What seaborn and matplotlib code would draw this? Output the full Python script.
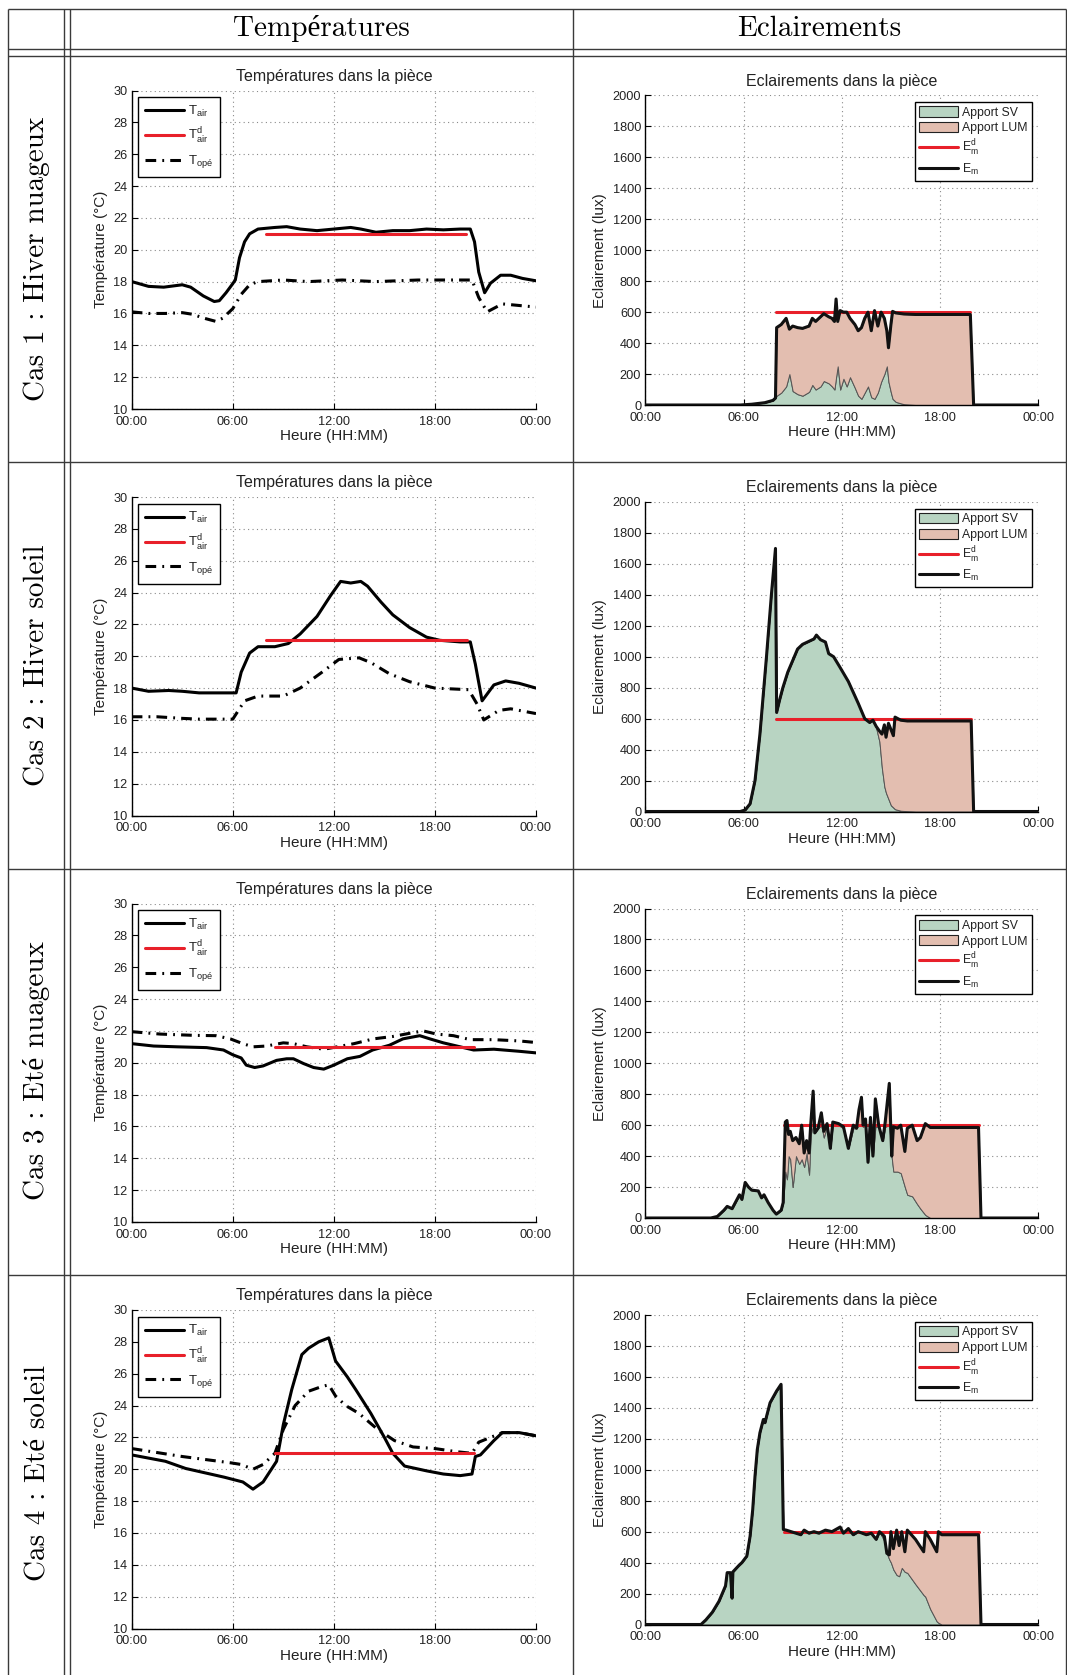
import numpy as np
import matplotlib
matplotlib.use("Agg")
import matplotlib.pyplot as plt
import seaborn as sns
from matplotlib.patches import Patch
from matplotlib.lines import Line2D

# ---------------- DATA ----------------
row_labels = ["Cas 1 : Hiver nuageux", "Cas 2 : Hiver soleil",
              "Cas 3 : Eté nuageux", "Cas 4 : Eté soleil"]
col_headers = ["Températures", "Eclairements"]
x_ticks = [0, 6, 12, 18, 24]
x_tick_labels = ["00:00", "06:00", "12:00", "18:00", "00:00"]
temp_ticks = list(range(10, 31, 2))
lux_ticks = list(range(0, 2001, 200))

# Case 1 temperatures
c1_tair_h = [0, 1.0, 1.9, 3.0, 3.5, 4.25, 4.9, 5.2, 5.6, 5.95, 6.15, 6.4, 6.7, 7.0, 7.5, 8.5, 9.2, 10.0, 11.0,
             12.0, 13.0, 13.6, 14.5, 15.5, 16.5, 17.5, 18.5, 19.5, 20.1, 20.35, 20.6, 20.95, 21.3, 21.9, 22.5, 23.2, 24]
c1_tair = [18.0, 17.7, 17.65, 17.8, 17.65, 17.1, 16.75, 16.8, 17.3, 17.8, 18.1, 19.5, 20.5, 21.0, 21.3, 21.4, 21.45,
           21.3, 21.2, 21.3, 21.4, 21.3, 21.1, 21.2, 21.2, 21.3, 21.25, 21.3, 21.3, 20.5, 18.6, 17.3, 17.9, 18.4,
           18.4, 18.2, 18.05]
c1_tope_h = [0, 1.0, 2.0, 3.0, 3.6, 4.3, 5.0, 5.4, 6.0, 6.5, 7.0, 7.5, 9.0, 10.5, 12.5, 14.5, 17.0, 19.0, 20.2,
             20.6, 21.1, 22.0, 23.0, 24]
c1_tope = [16.1, 16.0, 16.0, 16.05, 15.95, 15.7, 15.5, 15.7, 16.3, 17.2, 17.8, 18.0, 18.1, 18.0, 18.1, 18.0, 18.1,
           18.1, 18.1, 17.0, 16.1, 16.6, 16.5, 16.4]
c1_td_span = [8.0, 19.85]

# Case 2 temperatures
c2_tair_h = [0, 1.0, 2.2, 3.0, 4.0, 5.0, 6.2, 6.5, 7.0, 7.5, 8.5, 9.3, 10.0, 11.0, 11.8, 12.4, 13.0, 13.6, 14.0,
             14.8, 15.5, 16.5, 17.5, 18.3, 19.5, 20.1, 20.4, 20.8, 21.5, 22.2, 23.0, 24]
c2_tair = [18.0, 17.8, 17.85, 17.8, 17.7, 17.7, 17.7, 19.0, 20.2, 20.6, 20.6, 20.8, 21.4, 22.5, 23.8, 24.7, 24.6,
           24.7, 24.4, 23.4, 22.6, 21.8, 21.2, 21.0, 20.9, 20.9, 19.5, 17.2, 18.2, 18.45, 18.3, 18.0]
c2_tope_h = [0, 1.5, 3.0, 4.0, 6.0, 6.7, 7.5, 9.0, 10.0, 11.3, 12.3, 13.5, 14.2, 15.3, 16.5, 18.0, 20.0, 20.5,
             20.9, 21.8, 22.5, 24]
c2_tope = [16.2, 16.2, 16.1, 16.05, 16.05, 17.2, 17.5, 17.5, 18.0, 19.0, 19.8, 19.9, 19.6, 18.9, 18.4, 18.0, 17.9,
           17.0, 16.0, 16.6, 16.7, 16.4]
c2_td_span = [8.0, 19.9]

# Case 3 temperatures
c3_tair_h = [0, 1.3, 2.7, 4.45, 5.45, 6.0, 6.5, 6.8, 7.3, 7.8, 8.6, 9.2, 9.6, 10.2, 10.8, 11.4, 12.0, 12.8, 13.55,
             14.3, 15.3, 16.1, 17.1, 17.7, 18.5, 19.5, 20.3, 21.5, 23.0, 24]
c3_tair = [21.2, 21.05, 21.0, 20.95, 20.8, 20.5, 20.3, 19.85, 19.7, 19.8, 20.15, 20.25, 20.25, 19.95, 19.7, 19.6,
           19.85, 20.25, 20.4, 20.8, 21.1, 21.5, 21.7, 21.5, 21.25, 21.0, 20.8, 20.85, 20.72, 20.62]
c3_tope_h = [0, 1.7, 3.7, 5.0, 5.85, 6.6, 7.2, 8.0, 9.0, 9.6, 10.4, 11.4, 12.2, 13.2, 14.35, 15.5, 16.5, 17.3,
             18.1, 19.1, 20.1, 21.5, 23.0, 24]
c3_tope = [21.95, 21.8, 21.72, 21.7, 21.5, 21.2, 21.0, 21.05, 21.25, 21.2, 21.0, 20.85, 21.0, 21.2, 21.5, 21.65,
           21.85, 22.0, 21.8, 21.7, 21.45, 21.45, 21.37, 21.27]
c3_td_span = [8.5, 20.3]

# Case 4 temperatures
c4_tair_h = [0, 2.0, 3.2, 5.5, 6.6, 7.2, 7.8, 8.6, 9.0, 9.5, 10.1, 10.5, 11.1, 11.7, 12.1, 12.8, 13.3, 14.2, 15.0,
             15.5, 16.2, 17.5, 18.5, 19.5, 20.2, 20.4, 20.7, 21.5, 22.0, 23.0, 24]
c4_tair = [20.9, 20.5, 20.05, 19.5, 19.2, 18.75, 19.2, 20.5, 22.8, 25.0, 27.2, 27.6, 28.0, 28.25, 26.8, 25.8, 25.0,
           23.5, 22.0, 21.0, 20.2, 19.9, 19.7, 19.6, 19.7, 20.8, 20.9, 21.8, 22.3, 22.3, 22.1]
c4_tope_h = [0, 3.0, 5.9, 6.5, 7.2, 7.8, 8.5, 9.0, 9.7, 10.5, 11.3, 11.7, 12.1, 12.7, 13.5, 14.6, 15.6, 16.7, 18.0,
             19.3, 20.2, 20.6, 21.3, 22.0, 23.0, 24]
c4_tope = [21.3, 20.8, 20.4, 20.3, 20.0, 20.3, 21.0, 22.5, 24.0, 24.9, 25.2, 25.3, 24.6, 24.0, 23.5, 22.5, 21.8,
           21.4, 21.3, 21.1, 21.0, 21.7, 22.0, 22.3, 22.3, 22.1]
c4_td_span = [8.5, 20.3]

td_value = 21

# Case 1 illuminance
c1_lux_h = [0, 5.8, 6.5, 7.3, 7.8, 7.95, 8.02, 8.3, 8.6, 8.8, 9.0, 9.3, 9.6, 10.0, 10.2, 10.4, 10.7, 10.9, 11.2,
            11.4, 11.55, 11.65, 11.75, 11.9, 12.1, 12.3, 12.5, 12.8, 13.0, 13.2, 13.4, 13.6, 13.8, 14.0, 14.2,
            14.4, 14.6, 14.75, 14.85, 15.0, 15.1, 15.3, 15.8, 16.5, 19.85, 20.05, 24]
c1_sv = [0, 0, 5, 15, 30, 45, 60, 80, 120, 200, 90, 70, 60, 85, 130, 100, 120, 155, 140, 120, 100, 180, 250, 100,
         170, 120, 180, 110, 60, 40, 80, 120, 50, 40, 80, 150, 200, 250, 150, 80, 40, 20, 5, 0, 0, 0, 0]
c1_em = [0, 0, 5, 15, 30, 45, 500, 520, 560, 490, 510, 500, 495, 510, 560, 540, 570, 590, 570, 560, 540, 685, 540,
         610, 600, 600, 560, 520, 480, 500, 560, 600, 480, 610, 510, 600, 560, 480, 370, 520, 605, 595, 588, 585,
         585, 0, 0]
c1_ed_span = [8.0, 19.85]

# Case 2 illuminance
c2_lux_h = [0, 5.8, 6.1, 6.4, 6.7, 7.0, 7.4, 7.7, 7.95, 8.02, 8.2, 8.4, 8.7, 8.9, 9.1, 9.3, 9.6, 10.0, 10.3, 10.45,
            10.7, 11.0, 11.2, 11.5, 11.9, 12.4, 13.0, 13.4, 13.7, 13.9, 14.1, 14.3, 14.45, 14.6, 14.7, 14.85, 15.0,
            15.15, 15.25, 15.6, 16.0, 16.5, 19.9, 20.05, 24]
c2_sv = [0, 0, 10, 50, 200, 500, 1000, 1400, 1700, 640, 720, 800, 900, 950, 1000, 1050, 1080, 1100, 1115, 1140,
         1110, 1095, 1020, 1000, 930, 840, 700, 600, 575, 590, 540, 450, 280, 160, 120, 80, 40, 25, 15, 5, 2, 0, 0,
         0, 0]
c2_em = [0, 0, 10, 50, 200, 500, 1000, 1400, 1700, 640, 720, 800, 900, 950, 1000, 1050, 1080, 1100, 1115, 1140,
         1110, 1095, 1020, 1000, 930, 840, 700, 600, 575, 590, 550, 520, 500, 560, 480, 570, 530, 490, 610, 590,
         585, 585, 585, 0, 0]
c2_ed_span = [8.0, 19.9]

# Case 3 illuminance
c3_lux_h = [0, 4.0, 4.4, 4.8, 5.0, 5.3, 5.5, 5.75, 5.9, 6.1, 6.3, 6.5, 6.9, 7.1, 7.25, 7.5, 7.8, 8.0, 8.3, 8.42,
            8.55, 8.65, 8.75, 8.85, 9.0, 9.2, 9.4, 9.55, 9.7, 9.85, 10.0, 10.1, 10.25, 10.35, 10.55, 10.75, 10.9,
            11.1, 11.3, 11.45, 11.8, 12.1, 12.4, 12.7, 12.9, 13.05, 13.2, 13.3, 13.45, 13.6, 13.75, 13.9, 14.05,
            14.25, 14.5, 14.65, 14.9, 15.05, 15.15, 15.4, 15.6, 15.85, 16.0, 16.3, 16.6, 16.8, 17.1, 17.4, 20.35,
            20.5, 24]
c3_sv = [0, 0, 10, 50, 75, 60, 100, 150, 120, 230, 200, 180, 175, 130, 150, 100, 50, 25, 50, 100, 300, 250, 400,
         380, 200, 400, 350, 380, 330, 420, 280, 540, 600, 550, 580, 600, 520, 600, 450, 600, 600, 580, 450, 580,
         580, 600, 600, 590, 600, 360, 600, 400, 590, 590, 500, 590, 600, 390, 300, 300, 290, 200, 150, 140, 90,
         60, 20, 0, 0, 0, 0]
c3_em = [0, 0, 10, 50, 75, 60, 100, 150, 120, 230, 200, 180, 175, 130, 150, 100, 50, 25, 50, 100, 620, 630, 540,
         560, 500, 520, 480, 600, 420, 500, 420, 600, 820, 550, 580, 680, 560, 610, 450, 620, 610, 590, 450, 600,
         580, 700, 780, 600, 640, 360, 650, 400, 770, 600, 500, 620, 870, 400, 590, 580, 600, 430, 580, 600, 500,
         520, 610, 585, 585, 0, 0]
c3_ed_span = [8.5, 20.4]

# Case 4 illuminance
c4_lux_h = [0, 3.4, 3.7, 4.1, 4.5, 4.9, 5.0, 5.2, 5.3, 5.35, 5.7, 5.9, 6.2, 6.4, 6.56, 6.7, 6.84, 7.0, 7.21, 7.31,
            7.41, 7.62, 8.02, 8.29, 8.43, 8.6, 8.9, 9.2, 9.5, 9.7, 10.0, 10.3, 10.6, 11.0, 11.4, 11.9, 12.1, 12.4,
            12.7, 13.0, 13.5, 13.8, 14.1, 14.3, 14.6, 14.75, 14.9, 15.0, 15.15, 15.35, 15.5, 15.66, 15.85, 16.0,
            16.5, 17.0, 17.1, 17.4, 17.8, 17.9, 18.1, 20.35, 20.5, 24]
c4_sv = [0, 0, 30, 80, 150, 250, 335, 335, 170, 340, 380, 400, 442, 571, 743, 959, 1131, 1239, 1325, 1304, 1347,
         1433, 1509, 1552, 614, 610, 600, 590, 580, 610, 590, 600, 590, 610, 600, 630, 590, 620, 580, 600, 580,
         590, 550, 600, 540, 460, 420, 400, 355, 320, 312, 366, 340, 334, 260, 190, 180, 100, 20, 11, 0, 0, 0, 0]
c4_em = [0, 0, 30, 80, 150, 250, 335, 335, 170, 340, 380, 400, 442, 571, 743, 959, 1131, 1239, 1325, 1304, 1347,
         1433, 1509, 1552, 614, 610, 600, 590, 580, 610, 590, 600, 590, 610, 600, 630, 590, 620, 580, 600, 580,
         590, 550, 600, 570, 460, 450, 600, 490, 610, 510, 600, 470, 610, 550, 470, 600, 550, 470, 600, 580, 580,
         0, 0]
c4_ed_span = [8.5, 20.4]

ed_value = 600

temp_cases = [(c1_tair_h, c1_tair, c1_tope_h, c1_tope, c1_td_span),
              (c2_tair_h, c2_tair, c2_tope_h, c2_tope, c2_td_span),
              (c3_tair_h, c3_tair, c3_tope_h, c3_tope, c3_td_span),
              (c4_tair_h, c4_tair, c4_tope_h, c4_tope, c4_td_span)]
lux_cases = [(c1_lux_h, c1_sv, c1_em, c1_ed_span),
             (c2_lux_h, c2_sv, c2_em, c2_ed_span),
             (c3_lux_h, c3_sv, c3_em, c3_ed_span),
             (c4_lux_h, c4_sv, c4_em, c4_ed_span)]

# ---------------- STYLE ----------------
sns.set_style("white")
plt.rcParams['font.family'] = ['Liberation Sans', 'DejaVu Sans']
plt.rcParams['axes.unicode_minus'] = False

W, H = 1067, 1675
fig = plt.figure(figsize=(W / 100, H / 100), dpi=100)
fig.patch.set_facecolor("white")

SV_COL = "#b8d4c2"
LUM_COL = "#e3beb0"
RED = "#e8202a"
TXT = "#222222"
SERIF = ['cmr10', 'Liberation Serif', 'DejaVu Serif']


def rect(left, top, right, bottom):
    return [left / W, 1 - bottom / H, (right - left) / W, (bottom - top) / H]


# background table
bg = fig.add_axes([0, 0, 1, 1], zorder=-5)
bg.set_xlim(0, W)
bg.set_ylim(H, 0)
bg.axis("off")
LC = "#3a3a3a"
for y in [8.5, 49.0, 55.5, 462.0, 868.5, 1275.0]:
    bg.plot([7.5, 1066], [y, y], color=LC, lw=1.0, solid_capstyle="butt")
for x in [7.5, 64.3, 70.3, 572.5, 1066]:
    bg.plot([x, x], [8.5, H], color=LC, lw=1.0, solid_capstyle="butt")

bg.text(321, 29, col_headers[0], ha="center", va="center", fontsize=21, family=SERIF, color="black")
bg.text(819, 29, col_headers[1], ha="center", va="center", fontsize=21, family=SERIF, color="black")

row_top0 = 55.5
pitch = 406.5
row_centers = [259, 665, 1070, 1473]
for lab, yc in zip(row_labels, row_centers):
    bg.text(37, yc, lab, ha="center", va="center", rotation=90, fontsize=21, family=SERIF, color="black")


def style_axes(ax, ylim, yticks):
    ax.set_xlim(0, 24)
    ax.set_ylim(*ylim)
    ax.set_xticks(x_ticks)
    ax.set_xticklabels(x_tick_labels)
    ax.set_yticks(yticks)
    ax.set_yticklabels([str(v) for v in yticks])
    for s in ["top", "right"]:
        ax.spines[s].set_visible(False)
    for s in ["left", "bottom"]:
        ax.spines[s].set_color("black")
        ax.spines[s].set_linewidth(1.0)
    ax.tick_params(direction="in", length=4, width=0.8, colors="black", labelsize=9.2,
                   labelcolor=TXT, pad=3, left=True, bottom=True)
    ax.tick_params(axis="x", pad=5)
    ax.grid(True, linestyle=(0, (1, 3)), color="#8a8a8a", lw=0.8)
    ax.set_axisbelow(True)
    ax.set_xlabel("Heure (HH:MM)", fontsize=11, color=TXT, labelpad=1)


dashdot = (0, (3.5, 2.0, 0.6, 2.0))

for i in range(4):
    r = row_top0 + pitch * i
    # ---------- temperature ----------
    tair_h, tair, tope_h, tope, td_span = temp_cases[i]
    ax = fig.add_axes(rect(131.7, r + 35.0, 536.0, r + 353.5))
    sns.lineplot(x=tair_h, y=tair, ax=ax, color="black", linewidth=2.2, estimator=None, sort=False)
    sns.lineplot(x=tope_h, y=tope, ax=ax, color="black", linewidth=2.2, estimator=None, sort=False)
    ax.lines[-1].set_linestyle(dashdot)
    sns.lineplot(x=td_span, y=[td_value, td_value], ax=ax, color=RED, linewidth=2.2,
                 estimator=None, sort=False)
    style_axes(ax, (10, 30), temp_ticks)
    ax.set_title("Températures dans la pièce", fontsize=11.5, color=TXT, pad=7)
    ax.set_ylabel("Température (°C)", fontsize=11, color=TXT, labelpad=4)
    handles = [Line2D([], [], color="black", lw=2.2),
               Line2D([], [], color=RED, lw=2.2),
               Line2D([], [], color="black", lw=2.2, linestyle=dashdot)]
    labels = [r"T$_{\mathregular{air}}$", r"T$^{\mathregular{d}}_{\mathregular{air}}$",
              r"T$_{\mathregular{opé}}$"]
    leg = ax.legend(handles, labels, loc="upper left", fontsize=9.5, frameon=True, fancybox=False,
                    framealpha=1, edgecolor="black", handlelength=3.0, borderaxespad=0.5,
                    labelspacing=0.55, handletextpad=0.3, borderpad=0.5)
    leg.get_frame().set_linewidth(1.0)
    for t in leg.get_texts():
        t.set_color(TXT)

    # ---------- illuminance ----------
    lh, sv, em, ed_span = lux_cases[i]
    ax2 = fig.add_axes(rect(645.3, r + 40.0, 1038.3, r + 349.5))
    ax2.fill_between(lh, 0, sv, facecolor=SV_COL, edgecolor="#444444", linewidth=0.7, zorder=2)
    ax2.fill_between(lh, sv, em, facecolor=LUM_COL, edgecolor="#555555", linewidth=0.7, zorder=2)
    sns.lineplot(x=ed_span, y=[ed_value, ed_value], ax=ax2, color=RED, linewidth=2.2,
                 estimator=None, sort=False, zorder=3)
    sns.lineplot(x=lh, y=em, ax=ax2, color="#111111", linewidth=2.2, estimator=None, sort=False, zorder=4)
    style_axes(ax2, (0, 2000), lux_ticks)
    ax2.set_title("Eclairements dans la pièce", fontsize=11.5, color=TXT, pad=7)
    ax2.set_ylabel("Eclairement (lux)", fontsize=11, color=TXT, labelpad=4)
    handles2 = [Patch(facecolor=SV_COL, edgecolor="#222222", lw=0.8),
                Patch(facecolor=LUM_COL, edgecolor="#222222", lw=0.8),
                Line2D([], [], color=RED, lw=2.2),
                Line2D([], [], color="#111111", lw=2.2)]
    labels2 = ["Apport SV", "Apport LUM", r"E$^{\mathregular{d}}_{\mathregular{m}}$",
               r"E$_{\mathregular{m}}$"]
    leg2 = ax2.legend(handles2, labels2, loc="upper right", fontsize=8.8, frameon=True, fancybox=False,
                      framealpha=1, edgecolor="black", handlelength=3.2, handleheight=0.9,
                      borderaxespad=0.55, labelspacing=0.28, handletextpad=0.3, borderpad=0.35)
    leg2.get_frame().set_linewidth(1.0)
    for t in leg2.get_texts():
        t.set_color(TXT)

fig.savefig("out.png", dpi=100, facecolor="white")
